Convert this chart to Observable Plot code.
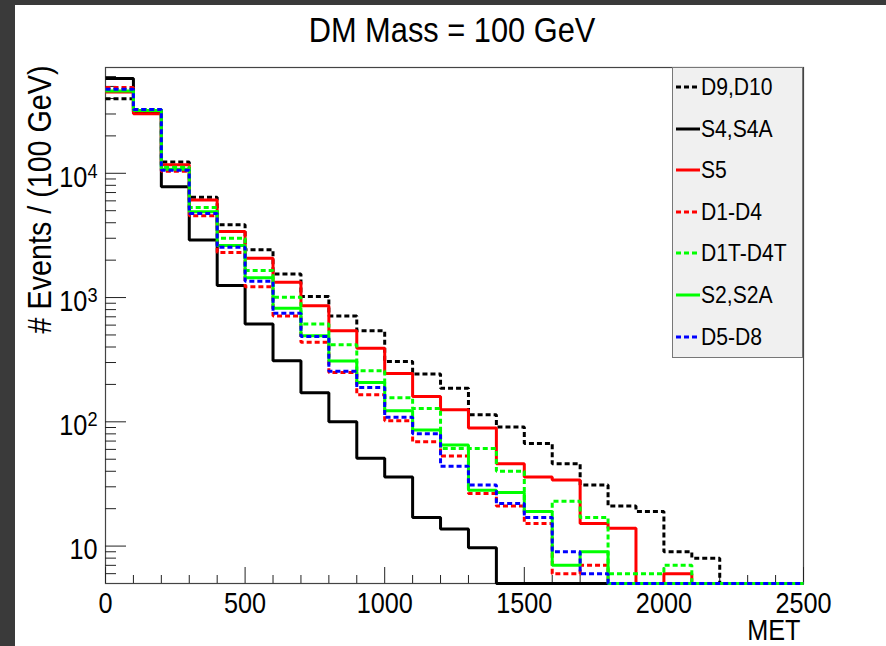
<!DOCTYPE html>
<html>
<head>
<meta charset="utf-8">
<script src="https://cdn.jsdelivr.net/npm/d3@7"></script>
<script src="https://cdn.jsdelivr.net/npm/@observablehq/plot@0.6"></script>
<style>
html, body { margin: 0; padding: 0; background: #fff; }
#wrap { position: relative; width: 886px; height: 646px; overflow: hidden; background: #fff;
  font-family: "Liberation Sans", Arial, Helvetica, sans-serif; }
.strip { position: absolute; background: #3a3a3a; z-index: 5; }
#title { position: absolute; left: 452px; top: 12px; font-size: 35px; line-height: 35px; white-space: nowrap;
  transform: translateX(-50%) scaleX(0.88); color: #000; z-index: 4; }
#legend { position: absolute; left: 672px; top: 67px; width: 131px; height: 291px; background: #f0f0f0;
  border: 1px solid #777; box-sizing: border-box; z-index: 3; }
.lrow { position: absolute; left: 0; height: 24px; white-space: nowrap; }
.lrow svg { position: absolute; left: 2px; top: 10px; }
.lrow span { position: absolute; left: 28px; top: 0; font-size: 24px; line-height: 24px; color: #000;
  transform: scaleX(0.88); transform-origin: left center; }
</style>
</head>
<body>
<div id="wrap">
  <div class="strip" style="left:0;top:0;width:15px;height:646px;"></div>
  <div class="strip" style="left:0;top:0;width:886px;height:5px;"></div>
  <div id="title">DM Mass = 100 GeV</div>
  <div id="legend"></div>
</div>
<script>
// ---- data ----
const binLow = [0, 100, 200, 300, 400, 500, 600, 700, 800, 900, 1000, 1100, 1200, 1300, 1400,
                1500, 1600, 1700, 1800, 1900, 2000, 2100, 2200, 2300, 2400];
const binEnd = 2500;

const d9d10  = [39700, 31500, 12300, 6400, 3850, 2420, 1550, 1020, 710, 540, 306, 243, 186, 114, 91, 67, 46, 31, 21, 19, 9, 8, 0, 0, 0];
const s4s4a  = [58000, 31000, 7800, 2900, 1250, 612, 310, 171, 100, 51, 36, 17, 13.7, 9.7, 0, 0, 0, 0, 0, 0, 0, 0, 0, 0, 0];
const s5     = [45000, 30100, 11700, 6100, 3400, 2070, 1325, 861, 541, 390, 245, 160, 125, 89, 46, 36, 34, 15.2, 13.9, 0, 6, 0, 0, 0, 0];
const d1d4   = [49000, 31800, 10400, 4550, 2300, 1224, 711, 436, 249, 165, 102, 69, 53, 26.5, 21, 15.2, 6, 7, 0, 0, 0, 0, 0, 0, 0];
const d1td4t = [47000, 32600, 11200, 5300, 3000, 1648, 1004, 613, 418, 258, 156, 128, 61, 61, 40, 19, 23, 17, 6, 6, 7, 0, 0, 0, 0];
const s2s2a  = [46000, 32000, 10800, 4900, 2620, 1440, 819, 493, 309, 207, 123, 86, 65, 28.2, 27, 19, 7, 9, 0, 0, 0, 0, 0, 0, 0];
const d5d8   = [47500, 32600, 10600, 4750, 2540, 1350, 746, 487, 255, 189, 109, 80, 44, 31, 22, 17, 9, 6, 0, 0, 0, 0, 0, 0, 0];

const seriesNames  = ["D9,D10", "S4,S4A", "S5", "D1-D4", "D1T-D4T", "S2,S2A", "D5-D8"];
const seriesValues = [d9d10, s4s4a, s5, d1d4, d1td4t, s2s2a, d5d8];
const seriesColors = ["#000000", "#000000", "#ff0000", "#ff0000", "#00ff00", "#00ff00", "#0000ff"];
const seriesDashed = [true, false, false, true, true, false, true];

const xDomain = [0, 2500];
const yDomain = [5, 71000];
const xMajor = [0, 500, 1000, 1500, 2000, 2500];
const xMinor = [100, 200, 300, 400, 600, 700, 800, 900, 1100, 1200, 1300, 1400, 1600, 1700, 1800, 1900, 2100, 2200, 2300, 2400];
const yMajor = [10, 100, 1000, 10000];
const yMinor = [6, 7, 8, 9, 20, 30, 40, 50, 60, 70, 80, 90, 200, 300, 400, 500, 600, 700, 800, 900,
                2000, 3000, 4000, 5000, 6000, 7000, 8000, 9000, 20000, 30000, 40000, 50000, 60000];
const xTitle = "MET";
const yTitle = "# Events / (100 GeV)";

// ---- layout constants ----
const W = 886, H = 646, mT = 67, mB = 63, mL = 105, mR = 83;
const frameW = W - mL - mR, frameH = H - mT - mB;
const dash = "5,3";

const lineMarks = seriesNames.map((name, k) => {
  const pts = binLow.map((x, i) => ({x, v: seriesValues[k][i]}));
  pts.push({x: binEnd, v: seriesValues[k][seriesValues[k].length - 1]});
  return Plot.line(pts, {
    x: "x", y: d => Math.max(d.v, yDomain[0]), curve: "step-after",
    stroke: seriesColors[k], strokeWidth: 3, strokeLinejoin: "miter", strokeLinecap: "butt",
    strokeDasharray: seriesDashed[k] ? dash : null
  });
});

const plot = Plot.plot({
  width: W, height: H,
  marginTop: mT, marginBottom: mB, marginLeft: mL, marginRight: mR,
  style: {fontFamily: '"Liberation Sans", Arial, sans-serif', fontSize: "29px", color: "#000",
          background: "transparent", overflow: "visible"},
  x: {type: "linear", domain: xDomain, axis: null},
  y: {type: "log", domain: yDomain, axis: null},
  marks: [
    Plot.frame({stroke: "#444", strokeWidth: 1.2}),
    Plot.tickX(xMinor, {x: d => d, insetTop: frameH - 8, stroke: "#222", strokeWidth: 1}),
    Plot.tickX(xMajor, {x: d => d, insetTop: frameH - 16, stroke: "#222", strokeWidth: 1}),
    Plot.tickY(yMinor, {y: d => d, insetRight: frameW - 11, stroke: "#222", strokeWidth: 1}),
    Plot.tickY(yMajor, {y: d => d, insetRight: frameW - 21, stroke: "#222", strokeWidth: 1}),
    ...lineMarks,
    Plot.axisX(xMajor, {anchor: "bottom", tickSize: 0, tickPadding: 9, fontSize: 29,
      tickFormat: d => String(d), label: null}),
    Plot.axisY(yMajor, {anchor: "left", tickSize: 0, tickPadding: 8, fontSize: 29, dy: 4,
      tickFormat: d => d === 10 ? "10" : "10^" + Math.round(Math.log10(d)), label: null}),
    Plot.text([yTitle], {text: d => d, frameAnchor: "top-left", rotate: -90, textAnchor: "end",
      lineAnchor: "bottom", dx: -55, dy: -2, fontSize: 33, fill: "#000"}),
    Plot.text([xTitle], {text: d => d, frameAnchor: "bottom-right", textAnchor: "end",
      lineAnchor: "bottom", dx: -3, dy: 56, fontSize: 29, fill: "#000"})
  ]
});
plot.style.position = "absolute";
plot.style.left = "0px";
plot.style.top = "0px";

// superscripts + slightly condensed type, like the original
plot.querySelectorAll("text").forEach(t => {
  const s = t.textContent;
  if (s.includes("^")) {
    const [base, exp] = s.split("^");
    t.textContent = base;
    const ts = document.createElementNS("http://www.w3.org/2000/svg", "tspan");
    ts.setAttribute("dy", "-0.42em");
    ts.setAttribute("font-size", "0.72em");
    ts.textContent = exp;
    t.appendChild(ts);
  }
  const tr = t.getAttribute("transform");
  t.setAttribute("transform", (tr ? tr + " " : "") + "scale(0.87,1)");
});

const wrap = document.getElementById("wrap");
wrap.insertBefore(plot, wrap.firstChild);

// legend
const legend = document.getElementById("legend");
seriesNames.forEach((name, k) => {
  const c = 86 + k * 41.6 - 67; // row centre relative to box
  const row = document.createElement("div");
  row.className = "lrow";
  row.style.top = (c - 12) + "px";
  row.innerHTML = `<svg width="26" height="4"><line x1="1" y1="2" x2="25" y2="2" stroke="${seriesColors[k]}" stroke-width="3" ${seriesDashed[k] ? `stroke-dasharray="${dash}"` : ""}/></svg><span>${name}</span>`;
  legend.appendChild(row);
});
</script>
</body>
</html>
